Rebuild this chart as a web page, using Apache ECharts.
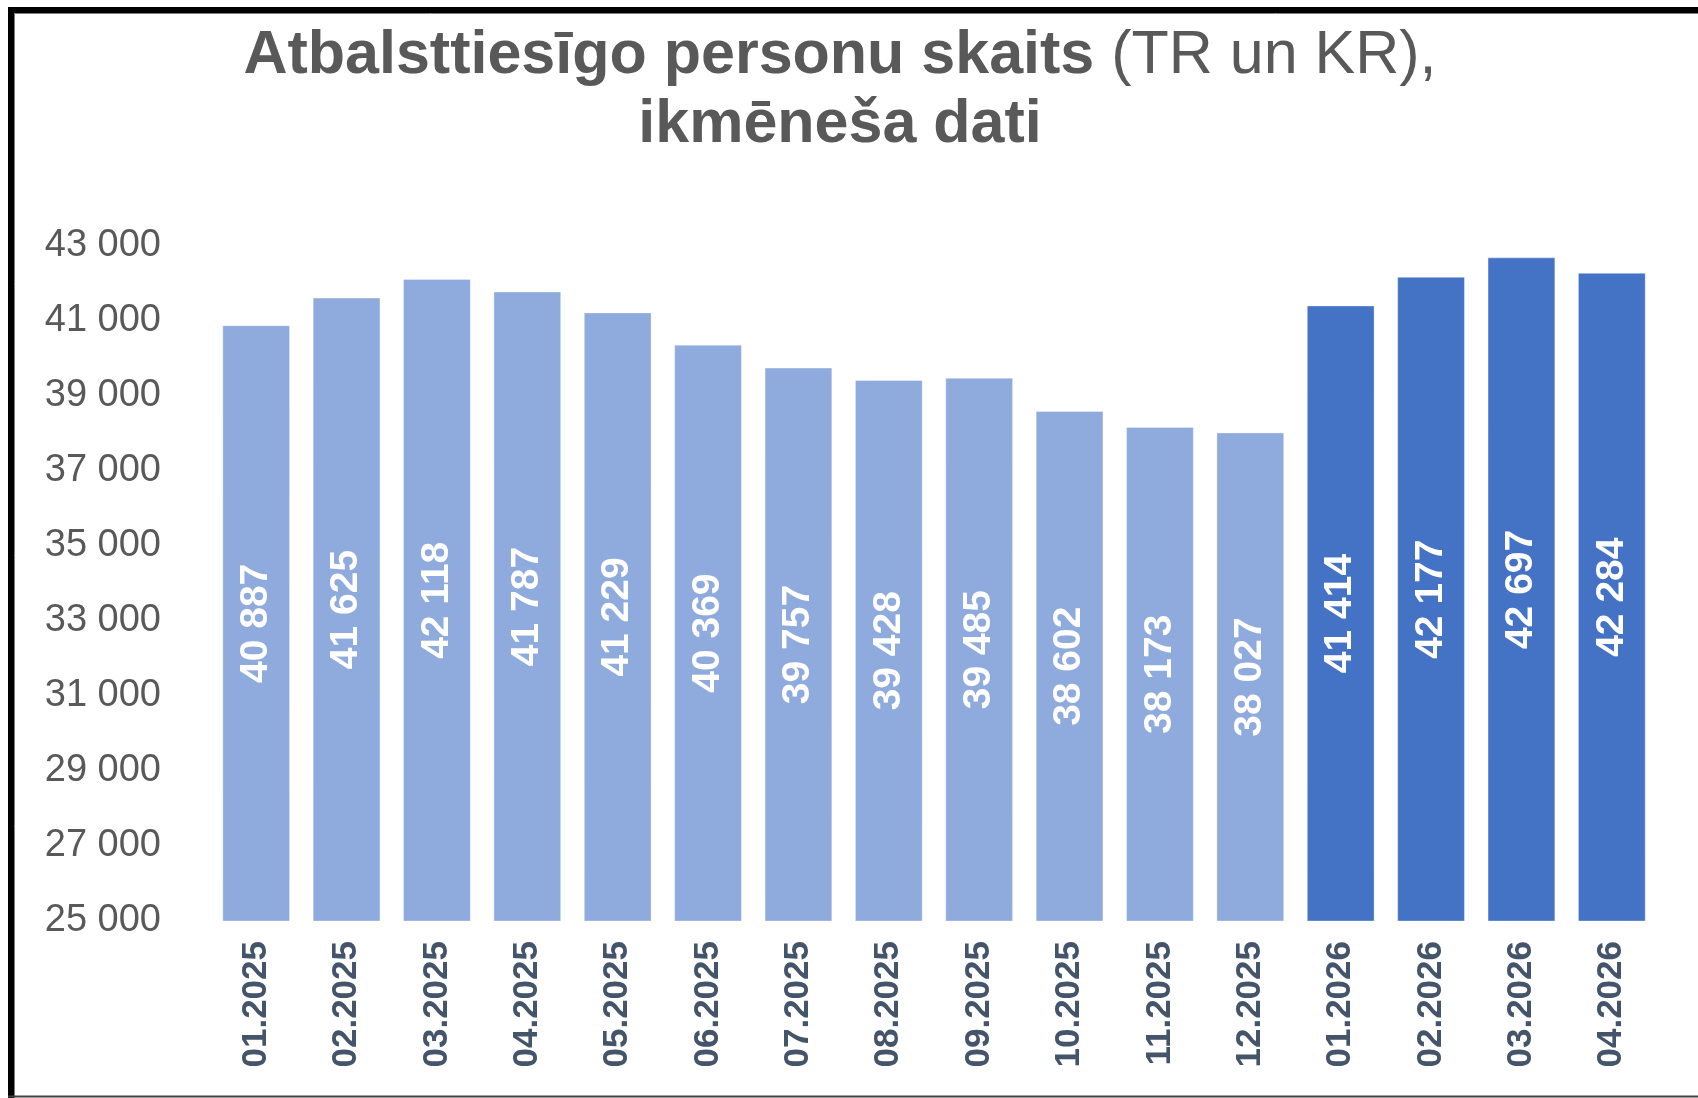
<!DOCTYPE html>
<html>
<head>
<meta charset="utf-8">
<script src="https://cdn.jsdelivr.net/npm/echarts@6/dist/echarts.min.js"></script>
<style>
html,body{margin:0;padding:0;background:#fff;}
#chart{width:1698px;height:1098px;}
</style>
</head>
<body>
<div id="chart"></div>
<script>
const categories = ['01.2025','02.2025','03.2025','04.2025','05.2025','06.2025','07.2025','08.2025','09.2025','10.2025','11.2025','12.2025','01.2026','02.2026','03.2026','04.2026'];
const values = [40887,41625,42118,41787,41229,40369,39757,39428,39485,38602,38173,38027,41414,42177,42697,42284];
const yMin = 25000, yMax = 43000, yStep = 2000;

const fmt = v => String(v).replace(/\B(?=(\d{3})+(?!\d))/g, ' ');
const FONT = '"Liberation Sans", Arial, sans-serif';

const chart = echarts.init(document.getElementById('chart'), null, {renderer: 'canvas'});
chart.setOption({
  backgroundColor: '#ffffff',
  animation: false,
  title: {
    left: 835,
    textAlign: 'center',
    top: 17,
    text: '{b|Atbalsttiesīgo personu skaits\u00a0}{n|(TR un KR),}\n{b|ikmēneša dati}',
    textStyle: {
      fontFamily: FONT,
      rich: {
        b: {fontFamily: FONT, fontSize: 61, fontWeight: 'bold', color: '#595959', lineHeight: 69},
        n: {fontFamily: FONT, fontSize: 61, fontWeight: 'normal', color: '#595959', lineHeight: 69}
      }
    }
  },
  grid: {left: 211, right: 41, top: 246, bottom: 177, containLabel: false},
  xAxis: {
    type: 'category',
    data: categories,
    axisLine: {show: false},
    axisTick: {show: false},
    axisLabel: {
      rotate: 90,
      margin: 20,
      fontFamily: FONT,
      fontSize: 35,
      fontWeight: 'bold',
      color: '#44546A'
    }
  },
  yAxis: {
    type: 'value',
    min: yMin,
    max: yMax,
    interval: yStep,
    splitLine: {show: false},
    axisLine: {show: false},
    axisTick: {show: false},
    axisLabel: {
      margin: 50,
      fontFamily: FONT,
      fontSize: 38,
      color: '#595959',
      formatter: v => fmt(v)
    }
  },
  series: [{
    type: 'bar',
    barCategoryGap: '25%',
    data: values.map((v, i) => ({
      value: v,
      itemStyle: {color: categories[i].endsWith('2026') ? '#4472C4' : '#8FAADC'}
    })),
    itemStyle: {borderColor: 'rgba(255,255,255,0.35)', borderWidth: 1},
    label: {
      show: true,
      position: 'inside',
      rotate: 90,
      fontFamily: FONT,
      fontSize: 39,
      fontWeight: 'bold',
      color: '#ffffff',
      formatter: p => fmt(p.value)
    }
  }],
  graphic: [
    {type: 'line', shape: {x1: 8, y1: 10, x2: 1698, y2: 10}, style: {stroke: '#000', lineWidth: 6}, silent: true},
    {type: 'line', shape: {x1: 8, y1: 13.5, x2: 1698, y2: 13.5}, style: {stroke: '#808080', lineWidth: 1}, silent: true},
    {type: 'line', shape: {x1: 11, y1: 7, x2: 11, y2: 1098}, style: {stroke: '#000', lineWidth: 6}, silent: true},
    {type: 'line', shape: {x1: 14.5, y1: 13, x2: 14.5, y2: 1098}, style: {stroke: '#808080', lineWidth: 1}, silent: true},
    {type: 'line', shape: {x1: 8, y1: 1096.5, x2: 1698, y2: 1096.5}, style: {stroke: '#404040', lineWidth: 2}, silent: true}
  ]
});
</script>
</body>
</html>
